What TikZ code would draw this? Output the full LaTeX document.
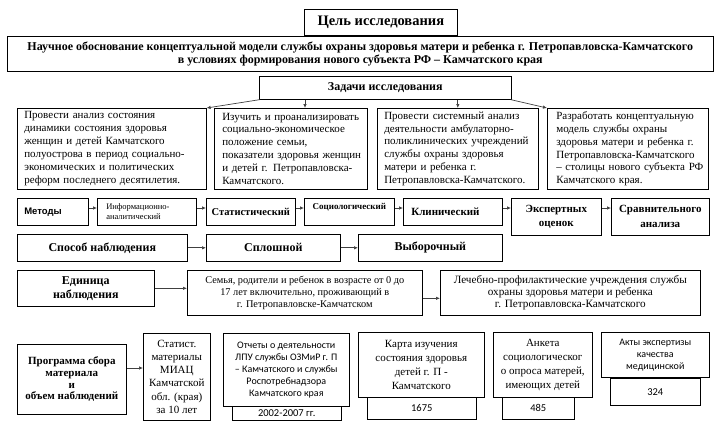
\documentclass[tikz,border=0pt]{standalone}
\usepackage{fontspec}
\setmainfont{Liberation Serif}
\newfontfamily\arialf{Liberation Sans}
\newfontfamily\calibrif{Carlito}
\usetikzlibrary{arrows.meta}

\begin{document}
\begin{tikzpicture}[x=1pt,y=-1pt,
    box/.style={draw, line width=0.6pt, anchor=north west, inner sep=0pt, align=center},
    arr/.style={-{Latex[length=4pt,width=3.5pt]}, line width=0.7pt, draw=black!75}]
    \useasboundingbox (0,0) rectangle (714,426);

    \node[box, minimum width=153pt, minimum height=26pt, font=\bfseries\fontsize{14.5}{16}\selectfont] (goal) at (304,9) {Цель исследования};
    \node[box, minimum width=706pt, minimum height=35pt, font=\bfseries\fontsize{12}{13.5}\selectfont] (aim) at (7,36)
        {Научное обоснование концептуальной модели службы охраны здоровья матери и ребенка г. Петропавловска-Камчатского\\в условиях формирования нового субъекта РФ – Камчатского края};
    \node[box, minimum width=252pt, minimum height=23pt, font=\bfseries\fontsize{12}{13}\selectfont] (tasks) at (259,76) {Задачи исследования};

    \node[box, text width=175pt, inner xsep=7pt, minimum height=81pt, align=left, font=\fontsize{11}{12.9}\selectfont] (t1) at (17,108)
        {Провести анализ состояния\\динамики состояния здоровья\\женщин и детей Камчатского\\полуострова в период социально-\\экономических и политических\\реформ последнего десятилетия.};
    \node[box, text width=137pt, inner xsep=8pt, minimum height=81pt, align=left, font=\fontsize{11}{12.9}\selectfont] (t2) at (214,108)
        {Изучить и проанализировать\\социально-экономическое\\положение семьи,\\\mbox{показатели здоровья женщин}\\и детей г. Петропавловска-\\Камчатского.};
    \node[box, text width=147pt, inner xsep=7pt, minimum height=81pt, align=left, font=\fontsize{11}{12.9}\selectfont] (t3) at (377,108)
        {Провести системный анализ\\деятельности амбулаторно-\\поликлинических учреждений\\службы охраны здоровья\\матери и ребенка г.\\Петропавловска-Камчатского.};
    \node[box, text width=143pt, inner xsep=9pt, minimum height=81pt, align=left, font=\fontsize{11}{12.9}\selectfont] (t4) at (547,108)
        {Разработать концептуальную\\модель службы охраны\\\mbox{здоровья матери и ребенка г.}\\Петропавловска-Камчатского\\\mbox{– столицы нового субъекта РФ}\\Камчатского края.};

    \draw[arr] ([xshift=1pt]tasks.south west) -- (t1.north east);
    \draw[arr] ([xshift=46pt]tasks.south west) -- ([xshift=46pt]tasks.south west |- t2.north);
    \draw[arr] (tasks.south -| t3.north) -- (t3.north);
    \draw[arr] ([xshift=-1pt]tasks.south east) -- (t4.north west);

    \node[box, text width=57pt, inner xsep=7pt, minimum height=27pt, align=left, font=\arialf\bfseries\fontsize{9.5}{11}\selectfont] (met) at (17,198) {Методы};
    \node[box, text width=81pt, inner xsep=9pt, minimum height=27pt, align=left, font=\fontsize{8.5}{10.5}\selectfont] (inf) at (97,198) {Информационно-\\аналитический};
    \node[box, minimum width=89pt, minimum height=27pt, font=\bfseries\fontsize{10.5}{12}\selectfont] (stat) at (206,198) {Статистический};
    \node[box, minimum width=90pt, minimum height=27pt, font=\bfseries\fontsize{9}{10}\selectfont] (soc) at (304,198) {Социологический\\ \mbox{}};
    \node[box, text width=83pt, inner xsep=8pt, minimum height=27pt, align=left, font=\bfseries\fontsize{11}{12}\selectfont] (klin) at (403,198) {Клинический};
    \node[box, minimum width=90pt, minimum height=37pt, font=\bfseries\fontsize{11}{14}\selectfont] (eksp) at (511,198) {Экспертных\\оценок};
    \node[box, minimum width=98pt, minimum height=37pt, font=\bfseries\fontsize{11}{15}\selectfont] (srav) at (611,198) {Сравнительного\\анализа};

    \draw[arr] ([yshift=-10pt]met.north east) -- ([yshift=-10pt]inf.north west);
    \draw[arr] ([yshift=-10pt]inf.north east) -- ([yshift=-10pt]stat.north west);
    \draw[arr] ([yshift=-10pt]stat.north east) -- ([yshift=-10pt]soc.north west);
    \draw[arr] ([yshift=-10pt]soc.north east) -- ([yshift=-10pt]klin.north west);
    \draw[arr] ([yshift=-10pt]klin.north east) -- ([yshift=-10pt]eksp.north west);
    \draw[arr] ([yshift=-10pt]eksp.north east) -- ([yshift=-10pt]srav.north west);

    \node[box, minimum width=170pt, minimum height=27pt, font=\bfseries\fontsize{12}{14}\selectfont] (sposob) at (17,234) {Способ наблюдения};
    \node[box, minimum width=134pt, minimum height=27pt, font=\bfseries\fontsize{12}{14}\selectfont] (splosh) at (206,234) {Сплошной};
    \node[box, minimum width=144pt, minimum height=27pt, font=\bfseries\fontsize{12}{14}\selectfont] (vyb) at (358,234) {Выборочный};
    \draw[arr] (sposob.east) -- (splosh.west);
    \draw[arr] (splosh.east) -- (vyb.west);

    \node[box, minimum width=137pt, minimum height=36pt, font=\bfseries\fontsize{12}{14}\selectfont] (edin) at (17,270) {Единица\\наблюдения};
    \node[box, minimum width=235pt, minimum height=45pt, font=\fontsize{10.3}{11.7}\selectfont] (semya) at (187,270)
        {Семья, родители и ребенок в возрасте от 0 до\\17 лет включительно, проживающий в\\г. Петропавловске-Камчатском};
    \node[box, minimum width=260pt, minimum height=45pt, font=\fontsize{11.2}{12}\selectfont] (lech) at (440,270)
        {Лечебно-профилактические учреждения службы\\охраны здоровья матери и ребенка\\г. Петропавловска-Камчатского};
    \draw[arr] (edin.east) -- (edin.east -| semya.west);
    \draw[arr] ([yshift=-5.5pt]semya.east) -- ([yshift=-5.5pt]lech.west);

    \node[box, minimum width=109pt, minimum height=70pt, font=\bfseries\fontsize{11}{11.7}\selectfont] (prog) at (17,344) {Программа сбора\\материала\\и\\объем наблюдений};
    \node[box, minimum width=67pt, minimum height=87pt, font=\fontsize{11}{13.2}\selectfont] (statm) at (143,333) {Статист.\\материалы\\МИАЦ\\Камчатской\\обл. (края)\\за 10 лет};
    \node[box, minimum width=126pt, minimum height=73pt, font=\calibrif\fontsize{10}{12}\selectfont] (otch) at (223,333)
        {Отчеты о деятельности\\ЛПУ службы ОЗМиР г. П\\– Камчатского и службы\\Роспотребнадзора\\Камчатского края};
    \node[box, minimum width=109pt, minimum height=14pt, font=\calibrif\fontsize{10.5}{12}\selectfont] (otchN) at (232,406) {2002-2007 гг.};
    \node[box, minimum width=126pt, minimum height=65pt, font=\fontsize{11}{14}\selectfont] (karta) at (358,332) {Карта изучения\\состояния здоровья\\детей г. П -\\Камчатского};
    \node[box, minimum width=109pt, minimum height=22pt, font=\calibrif\fontsize{10.5}{12}\selectfont] (kartaN) at (367,397) {1675};
    \node[box, minimum width=99pt, minimum height=65pt, font=\fontsize{11}{14}\selectfont] (anketa) at (493,332) {Анкета\\социологическог\\о опроса матерей,\\имеющих детей};
    \node[box, minimum width=72pt, minimum height=22pt, font=\calibrif\fontsize{10.5}{12}\selectfont] (anketaN) at (502,397) {485};
    \node[box, minimum width=108pt, minimum height=45pt, font=\calibrif\fontsize{10}{12}\selectfont] (akty) at (601,332) {Акты экспертизы\\качества\\медицинской};
    \node[box, minimum width=90pt, minimum height=27pt, font=\calibrif\fontsize{10.5}{12}\selectfont] (aktyN) at (610,378) {324};
    \draw[arr] ([yshift=-24pt]prog.north east) -- ([yshift=-35pt]statm.north west);
\end{tikzpicture}
\end{document}
